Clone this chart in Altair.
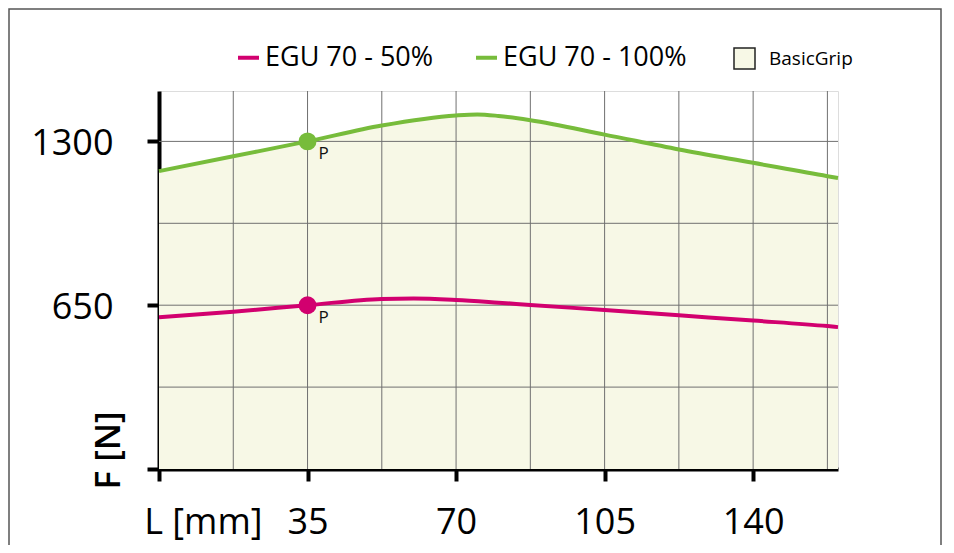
import altair as alt
import pandas as pd

# ---- data ----
X_100 = [0, 17.5, 35, 52.5, 70, 75, 80, 87.5, 105, 122.5, 140, 157.5, 160]
F_100 = [1182, 1241, 1300, 1363, 1403, 1407, 1401, 1384, 1327, 1268, 1215, 1162, 1155]
X_50 = [0, 17.5, 35, 52.5, 60, 70, 80, 87.5, 105, 122.5, 140, 157.5, 160]
F_50 = [602, 624, 650, 675, 677, 671, 660, 651, 631, 610, 589, 567, 563]
SERIES = ["EGU 70 - 50%", "EGU 70 - 100%"]
AREA_NAME = "BasicGrip"
P_X = [35, 35]
P_F = [650, 1300]
P_SERIES = SERIES
P_LABEL = ["P", "P"]
GRID_X = [17.5, 35, 52.5, 70, 87.5, 105, 122.5, 140, 157.5]
GRID_Y = [325, 650, 975, 1300]
X_TICKS = [0, 35, 70, 105, 140]
Y_TICKS = [0, 650, 1300]

PINK = "#d2006f"
GREEN = "#77bc3b"
BEIGE = "#f7f8e6"
FONT = "Open Sans"

W, H = 679, 378

lines_df = pd.DataFrame(
    {"x": X_50 + X_100, "y": F_50 + F_100,
     "series": [SERIES[0]] * len(X_50) + [SERIES[1]] * len(X_100)}
)
area_df = pd.DataFrame({"x": X_100, "y": F_100, "name": AREA_NAME})
pts_df = pd.DataFrame({"x": P_X, "y": P_F, "series": P_SERIES, "label": P_LABEL})
gx_df = pd.DataFrame({"x": GRID_X})
gy_df = pd.DataFrame({"y": GRID_Y})
frame_df = pd.DataFrame({"k": [0]})

xscale = alt.Scale(domain=[0, 160], nice=False, zero=True)
yscale = alt.Scale(domain=[0, 1500], nice=False, zero=True)

x_axis = alt.Axis(
    values=X_TICKS, grid=False, format="d",
    labelExpr="datum.value == 0 ? '' : datum.label",
    labelFont=FONT, labelFontSize=36, labelColor="black",
    labelBaseline="alphabetic", labelPadding=52, labelFlush=False,
    tickSize=12, tickWidth=4, tickColor="black",
    domainWidth=4, domainColor="black",
    title="L [mm]", titleFont=FONT, titleFontSize=36, titleFontWeight="normal",
    titleColor="black", titleAlign="right", titleBaseline="alphabetic",
    titleX=103, titleY=64,
)
y_axis = alt.Axis(
    values=Y_TICKS, grid=False, format="d",
    labelExpr="datum.value == 0 ? '' : datum.label",
    labelFont=FONT, labelFontSize=36, labelColor="black",
    labelBaseline="alphabetic", labelOffset=13, labelPadding=34,
    tickSize=12, tickWidth=4, tickColor="black",
    domainWidth=4, domainColor="black",
    title="F [N]", titleFont=FONT, titleFontSize=35, titleFontWeight=600,
    titleColor="black", titleAngle=270, titleAlign="center", titleBaseline="middle",
    titleX=-51, titleY=359,
)

X = alt.X("x:Q", scale=xscale, axis=x_axis)
Y = alt.Y("y:Q", scale=yscale, axis=y_axis)

area = alt.Chart(area_df).mark_area(interpolate="monotone").encode(
    x=X, y=Y,
    fill=alt.Fill(
        "name:N",
        scale=alt.Scale(domain=[AREA_NAME], range=[BEIGE]),
        legend=alt.Legend(
            orient="none", legendX=574, legendY=-44, direction="horizontal",
            title=None, symbolType="square", symbolSize=441,
            symbolStrokeColor="#222222", symbolStrokeWidth=1.5, symbolOpacity=1,
            labelFont=FONT, labelFontSize=19, labelColor="black", labelOffset=13,
            labelLimit=0, padding=0,
        ),
    ),
)

grid_v = alt.Chart(gx_df).mark_rule(color="#707070", strokeWidth=1).encode(x=X)
grid_h = alt.Chart(gy_df).mark_rule(color="#707070", strokeWidth=1).encode(y=Y)

lines = alt.Chart(lines_df).mark_line(interpolate="monotone", strokeWidth=4).encode(
    x=X, y=Y,
    stroke=alt.Stroke(
        "series:N",
        scale=alt.Scale(domain=SERIES, range=[PINK, GREEN]),
        legend=alt.Legend(
            orient="none", legendX=76, legendY=-47, direction="horizontal",
            title=None, symbolType="stroke", symbolSize=441, symbolStrokeWidth=4,
            labelFont=FONT, labelFontSize=27, labelColor="black", labelOffset=3,
            labelLimit=0, columnPadding=34, padding=0,
        ),
    ),
)

points = alt.Chart(pts_df).mark_circle(size=320, opacity=1).encode(
    x=X, y=Y,
    color=alt.Color("series:N", scale=alt.Scale(domain=SERIES, range=[PINK, GREEN]), legend=None),
)

plabels = alt.Chart(pts_df).mark_text(
    font=FONT, fontSize=17, color="#111111", dx=16, dy=13, align="center", baseline="middle"
).encode(x=X, y=Y, text="label:N")

frame = alt.Chart(frame_df).mark_rect(
    fillOpacity=0, stroke="#555555", strokeWidth=1.5
).encode(
    x=alt.value(-150), x2=alt.value(782), y=alt.value(-82), y2=alt.value(600)
)

chart = alt.layer(area, grid_v, grid_h, lines, points, plabels, frame).properties(
    width=W, height=H,
    autosize=alt.AutoSizeParams(type="none"),
    padding={"left": 151, "top": 83, "right": 104, "bottom": 76},
).configure_view(strokeOpacity=0).configure(background="white")

chart.save("out.html", embed_options={"renderer": "svg", "actions": False})
